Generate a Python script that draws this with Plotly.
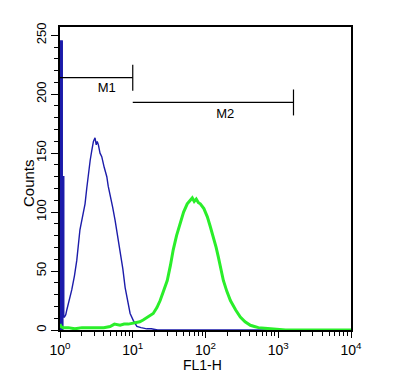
import plotly.graph_objects as go

# Blue (control) histogram; the first bins form the off-scale spike at 10^0
blue_x = [1.0, 1.0, 1.07, 1.07, 1.12, 1.12, 1.15, 1.20, 1.24, 1.34, 1.45, 1.58, 1.70, 1.88, 2.05, 2.21, 2.33,
          2.45, 2.60, 2.73, 2.88, 3.03, 3.15, 3.25, 3.37, 3.55, 3.75, 4.05, 4.40, 4.60, 4.88, 5.30,
          5.72, 6.20, 6.70, 7.30, 7.86, 8.50, 9.2, 10.2, 11.4, 13.0, 15.6, 18.0, 22.0, 30.0, 10000]
blue_y = [0, 245, 245, 130, 130, 11, 11, 13, 17, 25, 34, 46, 59, 85, 97, 107, 120,
          133, 144, 152, 160, 163, 157, 160, 157, 150, 147, 138, 130, 122, 113, 104,
          93, 80, 68, 52, 36, 26, 14, 8, 3, 2, 1, 1, 0, 0, 0]
spike_n = 6  # number of leading points that make up the spike

# Green (stained) histogram
green_x = [1.0, 1.03, 1.1, 1.3, 1.6, 2.0, 2.59, 3.2, 4.0, 4.88, 5.6, 6.7, 7.6, 8.7, 10.1, 11.5,
           12.5, 13.9, 16.0, 19.1, 21.5, 23.8, 26.5, 29.8, 33.0, 36.0, 40.0, 45.0, 50.0, 56.1,
           61.0, 65.8, 70.0, 74.7, 80.0, 84.8, 95.0, 106, 116, 128, 140, 150, 162, 176, 196,
           220, 260, 301, 350, 414, 470, 533, 650, 832, 1260, 10000]
green_y = [5, 3, 2, 2, 1, 2, 2, 2, 2, 3, 5, 4, 5, 5, 6, 7,
           7, 8.5, 11, 14, 19, 25, 33, 42, 55, 68, 80, 91, 100, 107,
           110, 112, 109, 111, 108, 107, 103, 96, 88, 79, 70, 62, 53, 42, 33,
           25, 17, 11, 7, 4, 3, 2, 1.5, 1, 0, 0]

# Markers: name, start, end, y level, label x, label y
markers = [("M1", 1, 10, 214, 4.4, 205), ("M2", 10, 1620, 193, 187, 183)]
bar_half = 11

blue = "#1c1caa"
fig = go.Figure()
fig.add_trace(go.Scatter(x=blue_x[:spike_n], y=blue_y[:spike_n], mode="lines", fill="tozeroy",
                         fillcolor=blue, line=dict(color=blue, width=1.4),
                         showlegend=False, hoverinfo="skip"))
fig.add_trace(go.Scatter(x=blue_x, y=blue_y, mode="lines", line=dict(color=blue, width=1.4),
                         showlegend=False, hoverinfo="skip"))
fig.add_trace(go.Scatter(x=green_x, y=green_y, mode="lines", line=dict(color="#2aee2a", width=3),
                         showlegend=False, hoverinfo="skip"))

for name, x0, x1, yl, lx, ly in markers:
    fig.add_trace(go.Scatter(x=[x0, x1, None, x1, x1], y=[yl, yl, None, yl - bar_half, yl + bar_half],
                             mode="lines", line=dict(color="black", width=1.2),
                             showlegend=False, hoverinfo="skip", cliponaxis=False))
    fig.add_trace(go.Scatter(x=[lx], y=[ly], mode="text", text=[name],
                             textfont=dict(family="Liberation Sans", size=13, color="black"),
                             showlegend=False, hoverinfo="skip"))

dec_vals = [1, 10, 100, 1000, 10000]
dec_text = ["10<sup>0</sup>", "10<sup>1</sup>", "10<sup>2</sup>", "10<sup>3</sup>", "10<sup>4</sup>"]
minor_x = [m * d for d in [1, 10, 100, 1000] for m in range(2, 10)]

fig.update_layout(
    width=400, height=380,
    margin=dict(l=60, r=49, t=27, b=50, autoexpand=False),
    paper_bgcolor="white", plot_bgcolor="white",
    font=dict(family="Liberation Sans", color="black", size=14),
    xaxis=dict(type="log", range=[0, 4], tickvals=dec_vals, ticktext=dec_text,
               ticks="outside", ticklen=6, tickwidth=1.2, tickcolor="black",
               minor=dict(tickvals=minor_x, ticks="outside", ticklen=4, tickwidth=1, tickcolor="black"),
               showline=True, linecolor="black", linewidth=1.5, mirror=True, showgrid=False, zeroline=False,
               automargin=False, layer="below traces", tickfont=dict(size=14)),
    yaxis=dict(range=[0, 257], tickvals=[0, 50, 100, 150, 200, 250], tickangle=-90,
               ticks="outside", ticklen=7, tickwidth=1.2, tickcolor="black",
               minor=dict(dtick=10, ticks="outside", ticklen=4, tickwidth=1, tickcolor="black"),
               showline=True, linecolor="black", linewidth=1.5, mirror=True, showgrid=False, zeroline=False,
               automargin=False, layer="below traces", tickfont=dict(size=13)),
    annotations=[
        dict(text="Counts", xref="paper", yref="paper", x=-0.11, y=0.485, textangle=-90,
             showarrow=False, font=dict(size=15), xanchor="center", yanchor="middle"),
        dict(text="FL1-H", xref="paper", yref="paper", x=0.488, y=-0.115,
             showarrow=False, font=dict(size=14), xanchor="center", yanchor="middle"),
    ],
)

fig.write_html("out.html", config={"displayModeBar": False},
               post_script="document.body.style.margin='0';")
